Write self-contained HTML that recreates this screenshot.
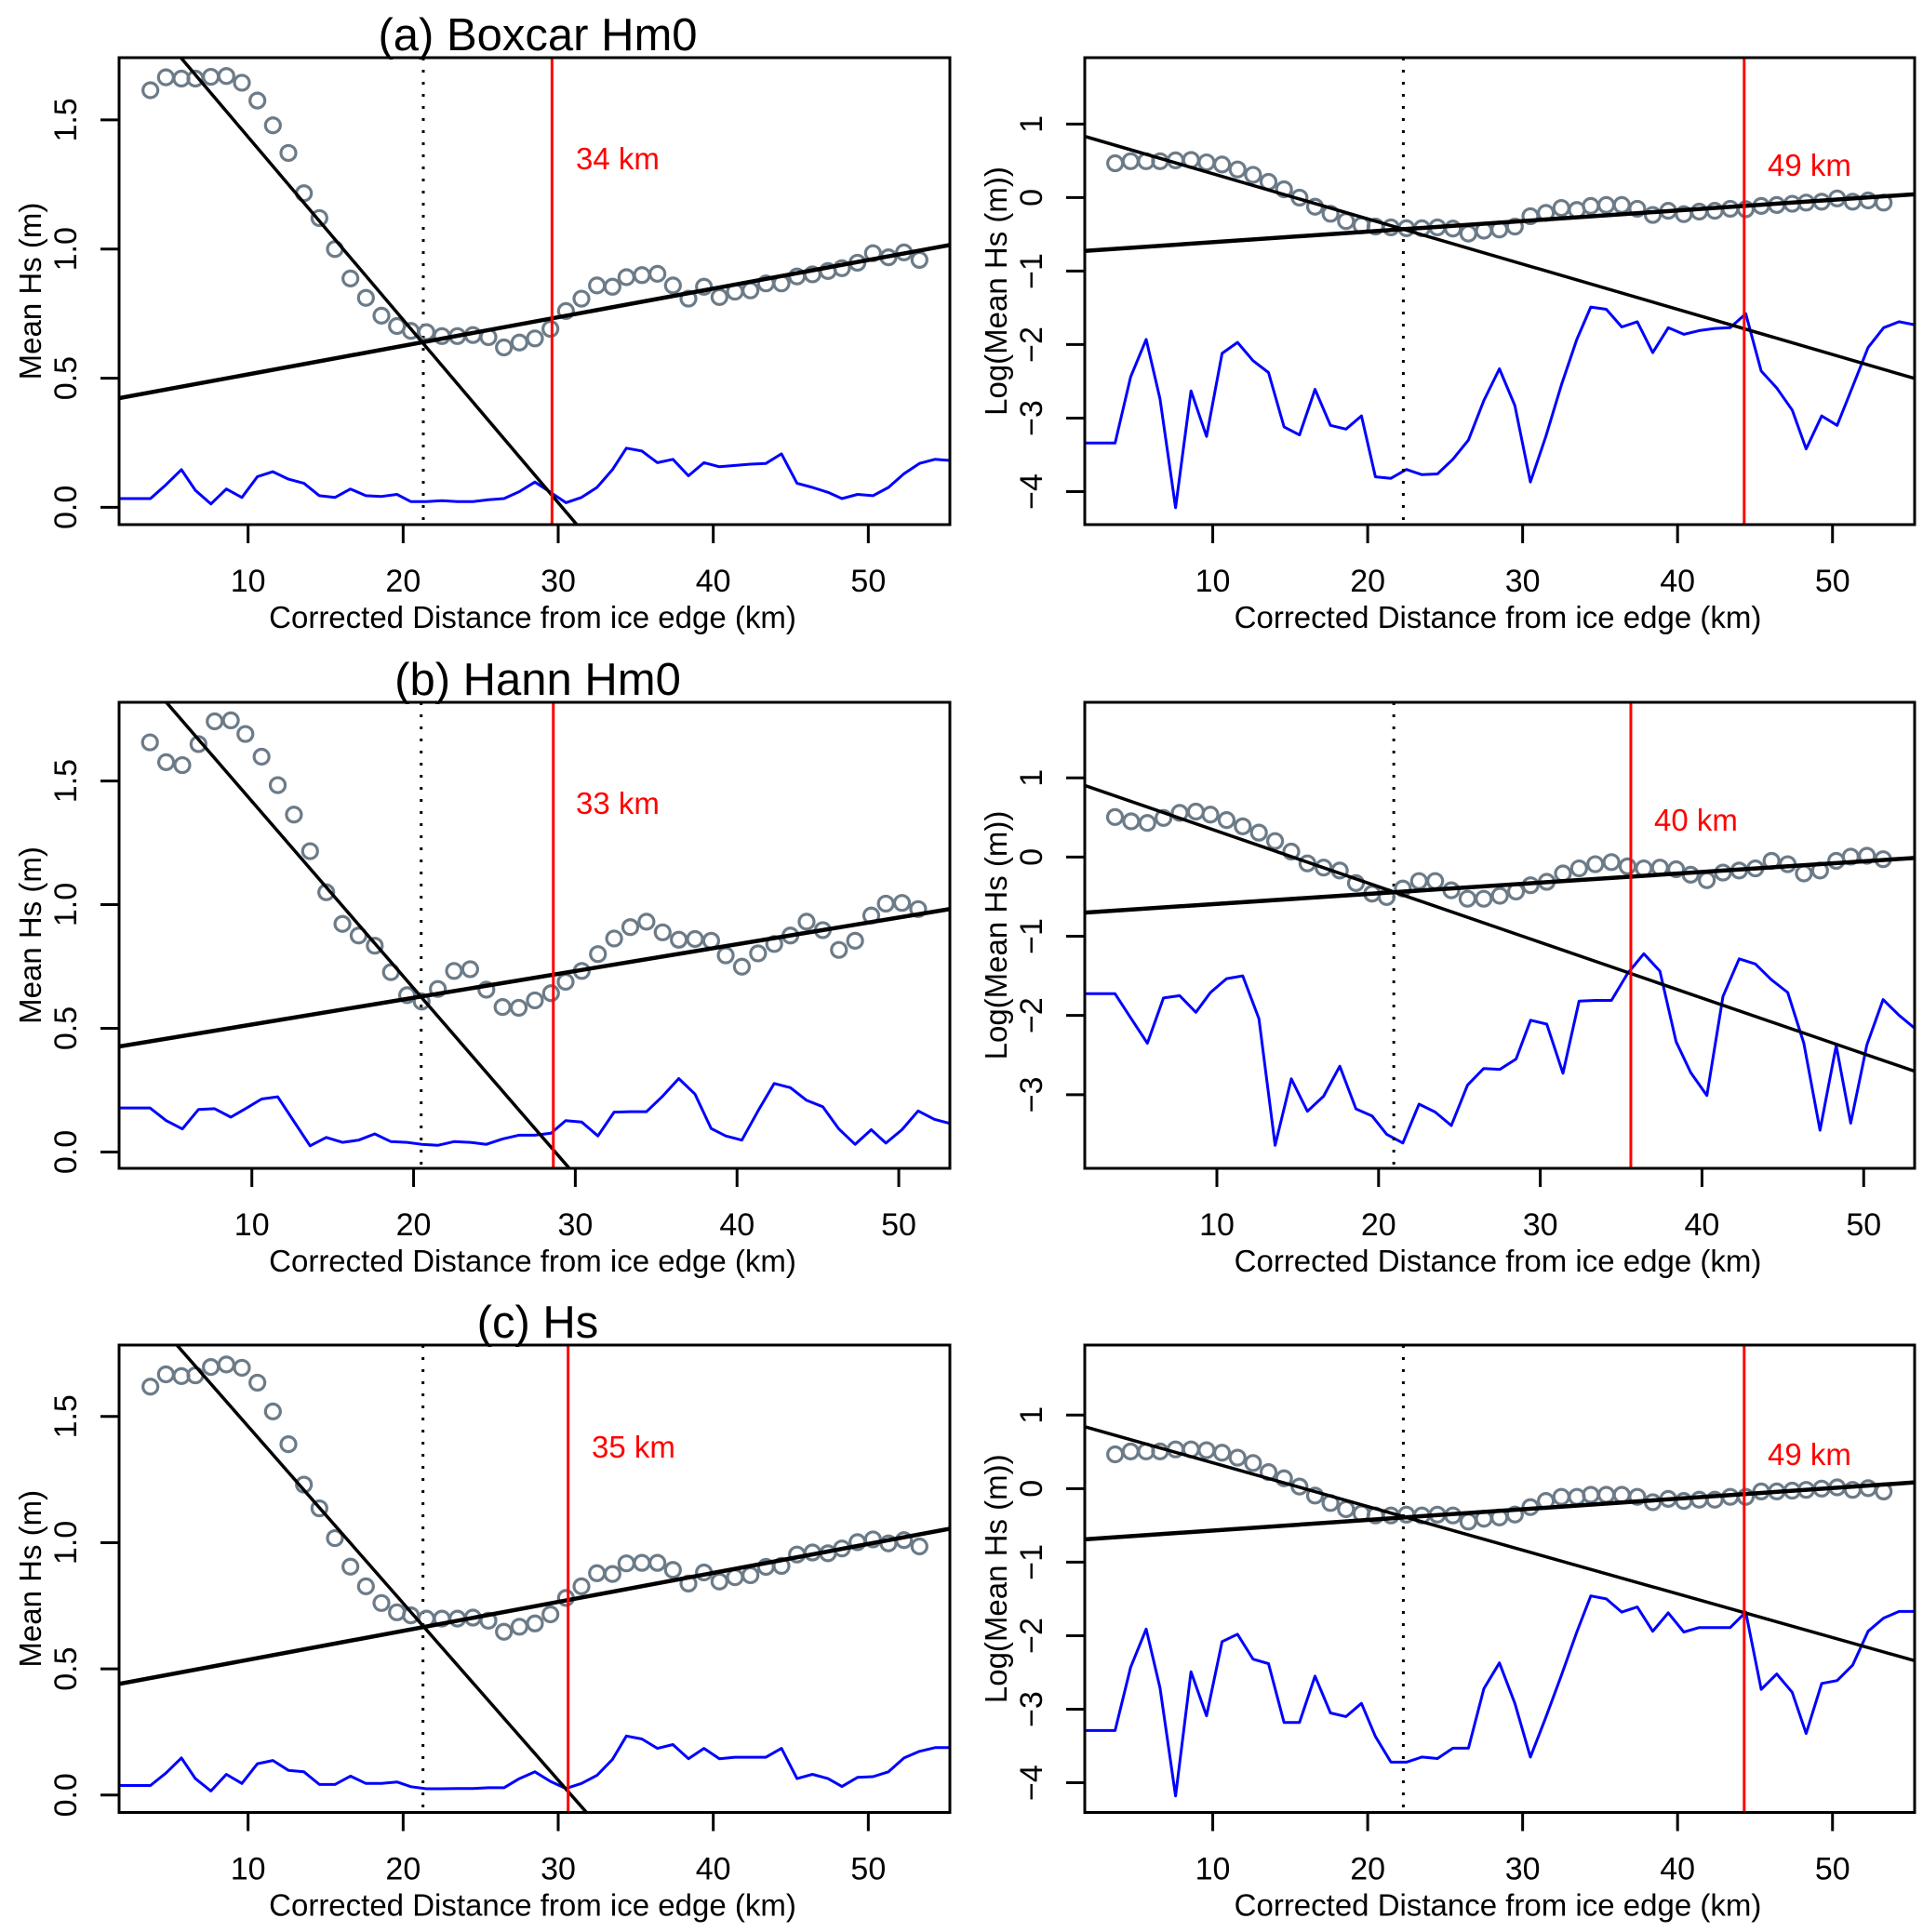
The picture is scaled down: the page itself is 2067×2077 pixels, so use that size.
<!DOCTYPE html>
<html><head><meta charset="utf-8"><style>html,body{margin:0;padding:0;background:#fff;overflow:hidden}svg{display:block}</style></head>
<body>
<svg id="fig" xmlns="http://www.w3.org/2000/svg" width="2067" height="2077" viewBox="0 0 2067 2077" font-family="'Liberation Sans', sans-serif"></svg>
<script>
// ---------- data ----------
const distA = [3.7,4.7,5.7,6.6,7.6,8.6,9.6,10.6,11.6,12.6,13.6,14.6,15.6,16.6,17.6,18.6,19.6,20.5,21.5,22.5,23.5,24.5,25.5,26.5,27.5,28.5,29.5,30.5,31.5,32.5,33.5,34.4,35.4,36.4,37.4,38.4,39.4,40.4,41.4,42.4,43.4,44.4,45.4,46.4,47.4,48.3,49.3,50.3,51.3,52.3,53.3];
const distB = [3.7,4.7,5.7,6.7,7.7,8.7,9.6,10.6,11.6,12.6,13.6,14.6,15.6,16.6,17.6,18.6,19.6,20.5,21.5,22.5,23.5,24.5,25.5,26.5,27.5,28.5,29.4,30.4,31.4,32.4,33.4,34.4,35.4,36.4,37.4,38.4,39.3,40.3,41.3,42.3,43.3,44.3,45.3,46.3,47.3,48.3,49.2,50.2,51.2];
const lineDistA = [1.7].concat(distA, [54.3, 55.3]);
const lineDistB = [1.8].concat(distB, [52.2, 53.2]);

const hsA = [1.615,1.665,1.66,1.66,1.667,1.67,1.644,1.575,1.479,1.372,1.216,1.12,1.0,0.886,0.811,0.742,0.702,0.683,0.678,0.663,0.663,0.667,0.659,0.619,0.638,0.654,0.691,0.76,0.808,0.859,0.854,0.891,0.899,0.904,0.859,0.808,0.854,0.814,0.835,0.84,0.867,0.867,0.894,0.902,0.915,0.926,0.947,0.984,0.968,0.987,0.958];
const sdA = [0.034,0.034,0.087,0.146,0.066,0.013,0.071,0.038,0.119,0.138,0.109,0.093,0.045,0.038,0.071,0.045,0.042,0.05,0.022,0.022,0.026,0.022,0.022,0.029,0.034,0.061,0.098,0.058,0.018,0.038,0.077,0.146,0.229,0.218,0.173,0.186,0.122,0.173,0.157,0.162,0.167,0.17,0.207,0.093,0.077,0.058,0.034,0.05,0.045,0.077,0.13,0.17,0.186,0.181];
const logA = [0.467,0.495,0.495,0.495,0.507,0.512,0.479,0.45,0.383,0.31,0.214,0.113,0,-0.124,-0.22,-0.32,-0.377,-0.394,-0.405,-0.417,-0.417,-0.405,-0.422,-0.49,-0.45,-0.434,-0.394,-0.253,-0.208,-0.141,-0.169,-0.113,-0.101,-0.101,-0.152,-0.236,-0.18,-0.225,-0.191,-0.18,-0.152,-0.158,-0.113,-0.101,-0.084,-0.068,-0.056,-0.011,-0.056,-0.039,-0.068];
const logSdA = [-3.34,-3.34,-2.44,-1.93,-2.74,-4.22,-2.63,-3.25,-2.12,-1.97,-2.22,-2.38,-3.12,-3.23,-2.61,-3.1,-3.15,-2.97,-3.8,-3.82,-3.7,-3.77,-3.76,-3.56,-3.3,-2.76,-2.33,-2.83,-3.87,-3.25,-2.55,-1.93,-1.49,-1.52,-1.76,-1.69,-2.11,-1.77,-1.86,-1.81,-1.78,-1.77,-1.58,-2.36,-2.59,-2.89,-3.42,-2.97,-3.1,-2.57,-2.04,-1.77,-1.69,-1.73];

const hsB = [1.656,1.576,1.564,1.649,1.741,1.745,1.69,1.598,1.483,1.364,1.216,1.05,0.922,0.875,0.834,0.727,0.634,0.608,0.659,0.732,0.739,0.656,0.586,0.583,0.613,0.642,0.688,0.732,0.8,0.863,0.909,0.931,0.888,0.858,0.861,0.854,0.795,0.749,0.803,0.841,0.875,0.931,0.897,0.817,0.854,0.956,1.004,1.007,0.982];
const sdB = [0.178,0.178,0.127,0.093,0.172,0.175,0.141,0.175,0.214,0.223,0.124,0.025,0.059,0.039,0.048,0.073,0.042,0.039,0.031,0.027,0.042,0.039,0.031,0.053,0.068,0.068,0.076,0.127,0.121,0.065,0.161,0.163,0.163,0.226,0.297,0.234,0.095,0.065,0.048,0.166,0.277,0.26,0.209,0.183,0.093,0.031,0.09,0.036,0.09,0.166,0.132,0.115];
const logB = [0.505,0.451,0.43,0.494,0.558,0.574,0.536,0.467,0.388,0.308,0.202,0.069,-0.08,-0.133,-0.17,-0.329,-0.462,-0.505,-0.398,-0.303,-0.303,-0.42,-0.526,-0.526,-0.489,-0.435,-0.356,-0.313,-0.207,-0.143,-0.09,-0.064,-0.117,-0.143,-0.133,-0.154,-0.223,-0.292,-0.196,-0.17,-0.143,-0.048,-0.09,-0.207,-0.17,-0.048,0.005,0.016,-0.027];
const logSdB = [-1.726,-1.726,-2.04,-2.35,-1.78,-1.75,-1.96,-1.71,-1.535,-1.5,-2.04,-3.64,-2.8,-3.21,-3.02,-2.64,-3.18,-3.27,-3.5,-3.61,-3.12,-3.22,-3.39,-2.88,-2.67,-2.68,-2.55,-2.06,-2.11,-2.73,-1.82,-1.81,-1.81,-1.47,-1.22,-1.44,-2.33,-2.72,-3.01,-1.76,-1.285,-1.35,-1.55,-1.71,-2.35,-3.45,-2.38,-3.36,-2.37,-1.8,-2.0,-2.17];

const hsC = [1.618,1.667,1.66,1.663,1.696,1.706,1.693,1.634,1.52,1.39,1.23,1.136,1.018,0.905,0.827,0.761,0.724,0.712,0.699,0.699,0.699,0.703,0.691,0.647,0.667,0.68,0.716,0.781,0.827,0.879,0.876,0.918,0.92,0.92,0.892,0.838,0.882,0.846,0.863,0.871,0.904,0.908,0.953,0.961,0.958,0.977,1.002,1.013,0.997,1.01,0.985];
const sdC = [0.038,0.038,0.087,0.147,0.065,0.016,0.082,0.046,0.124,0.137,0.098,0.092,0.042,0.042,0.075,0.046,0.046,0.052,0.033,0.025,0.025,0.026,0.026,0.029,0.029,0.065,0.092,0.054,0.026,0.046,0.078,0.141,0.234,0.222,0.185,0.2,0.144,0.185,0.144,0.15,0.15,0.15,0.185,0.065,0.082,0.065,0.034,0.07,0.073,0.092,0.147,0.173,0.188,0.188];
const logC = [0.466,0.505,0.505,0.505,0.533,0.533,0.522,0.488,0.421,0.348,0.224,0.14,0.028,-0.095,-0.196,-0.28,-0.337,-0.365,-0.365,-0.354,-0.365,-0.354,-0.365,-0.449,-0.41,-0.393,-0.353,-0.252,-0.168,-0.112,-0.112,-0.084,-0.084,-0.084,-0.112,-0.185,-0.14,-0.168,-0.151,-0.151,-0.112,-0.112,-0.039,-0.039,-0.028,-0.017,0,0.017,-0.017,0.006,-0.039];
const logSdC = [-3.29,-3.29,-2.43,-1.91,-2.71,-4.18,-2.49,-3.09,-2.08,-1.98,-2.32,-2.38,-3.18,-3.18,-2.55,-3.05,-3.1,-2.92,-3.37,-3.72,-3.72,-3.65,-3.67,-3.53,-3.53,-2.72,-2.37,-2.92,-3.65,-3.11,-2.54,-1.95,-1.46,-1.5,-1.68,-1.61,-1.94,-1.69,-1.95,-1.89,-1.89,-1.89,-1.68,-2.73,-2.52,-2.77,-3.33,-2.65,-2.61,-2.4,-1.94,-1.76,-1.67,-1.67];

// fit lines: [slope, intercept]
const fitInA = [-0.0708, 2.142], fitOutA = [0.01107, 0.404];
const fitInLA = [-0.0615, 0.94], fitOutLA = [0.0144, -0.751];
const fitInB = [-0.0756, 2.174], fitOutB = [0.01082, 0.407];
const fitInLB = [-0.0703, 1.032], fitOutLB = [0.01345, -0.726];
const fitInC = [-0.0701, 2.162], fitOutC = [0.01148, 0.421];
const fitInLC = [-0.0594, 0.945], fitOutLC = [0.01445, -0.715];
const breakDist = [21.3, 22.3, 20.47, 20.94, 21.28, 22.3];
const redDist = [29.6, 44.3, 28.64, 35.6, 30.64, 44.3];
const redLabels = ["34 km", "49 km", "33 km", "40 km", "35 km", "49 km"];
const titles = ["(a) Boxcar Hm0", "(b) Hann Hm0", "(c) Hs"];
const xTicks = [10, 20, 30, 40, 50];
const yTicksHs = [0, 0.5, 1.0, 1.5];
const yTickLabelsHs = ["0.0", "0.5", "1.0", "1.5"];
const yTicksLogA = [-4, -3, -2, -1, 0, 1];
const yTicksLogB = [-3, -2, -1, 0, 1];

// ---------- layout ----------
const NS = "http://www.w3.org/2000/svg";
const svg = document.getElementById("fig");
function mk(tag, attrs, parent) {
  const e = document.createElementNS(NS, tag);
  for (const k in attrs) e.setAttribute(k, attrs[k]);
  (parent || svg).appendChild(e);
  return e;
}
const rows = [{top: 62, bot: 564}, {top: 755, bot: 1256}, {top: 1446, bot: 1948.5}];
const panels = [
  {row:0, left:128, right:1021, xd:[1.68,55.26], yd:[-0.067,1.741], pts:hsA, pd:distA, sd:sdA, ld:lineDistA, f1:fitInA, f2:fitOutA, yt:yTicksHs, ytl:yTickLabelsHs, ytitle:"Mean Hs (m)", lx:619, ly:171, name:"a-linear"},
  {row:0, left:1166, right:2058, xd:[1.74,55.3], yd:[-4.45,1.904], pts:logA, pd:distA, sd:logSdA, ld:lineDistA, f1:fitInLA, f2:fitOutLA, yt:yTicksLogA, ytitle:"Log(Mean Hs (m))", lx:1900, ly:178, name:"a-log"},
  {row:1, left:128, right:1021, xd:[1.79,53.16], yd:[-0.066,1.818], pts:hsB, pd:distB, sd:sdB, ld:lineDistB, f1:fitInB, f2:fitOutB, yt:yTicksHs, ytl:yTickLabelsHs, ytitle:"Mean Hs (m)", lx:619, ly:864, name:"b-linear"},
  {row:1, left:1166, right:2058, xd:[1.83,53.15], yd:[-3.93,1.954], pts:logB, pd:distB, sd:logSdB, ld:lineDistB, f1:fitInLB, f2:fitOutLB, yt:yTicksLogB, ytitle:"Log(Mean Hs (m))", lx:1778, ly:882, name:"b-log"},
  {row:2, left:128, right:1021, xd:[1.68,55.26], yd:[-0.069,1.783], pts:hsC, pd:distA, sd:sdC, ld:lineDistA, f1:fitInC, f2:fitOutC, yt:yTicksHs, ytl:yTickLabelsHs, ytitle:"Mean Hs (m)", lx:636, ly:1556, name:"c-linear"},
  {row:2, left:1166, right:2058, xd:[1.74,55.3], yd:[-4.404,1.952], pts:logC, pd:distA, sd:logSdC, ld:lineDistA, f1:fitInLC, f2:fitOutLC, yt:yTicksLogA, ytitle:"Log(Mean Hs (m))", lx:1900, ly:1564, name:"c-log"}
];

titles.forEach((t, i) => {
  const r = rows[i];
  const e = mk("text", {x:578, y:r.top - 8, "font-size":49, "text-anchor":"middle"});
  
  
  e.textContent = t;
});

panels.forEach((p, i) => {
  const r = rows[p.row], T = r.top, B = r.bot, L = p.left, R = p.right;
  const sx = v => L + (v - p.xd[0]) / (p.xd[1] - p.xd[0]) * (R - L);
  const sy = v => B - (v - p.yd[0]) / (p.yd[1] - p.yd[0]) * (B - T);
  const g = mk("g", {});
  
  
  const cid = "clip" + i;
  const cp = mk("clipPath", {id: cid}, g);
  mk("rect", {x:L, y:T, width:R-L, height:B-T}, cp);
  const plot = mk("g", {"clip-path": "url(#" + cid + ")"}, g);

  let d = p.sd.map((v, k) => (k ? "L" : "M") + sx(p.ld[k]).toFixed(1) + "," + sy(v).toFixed(1)).join("");
  const bl = mk("path", {d:d, fill:"none", stroke:"#0000ff", "stroke-width":3, "stroke-linejoin":"round"}, plot);
  
  

  const dl = mk("line", {x1:sx(breakDist[i]), x2:sx(breakDist[i]), y1:T, y2:B, stroke:"#000", "stroke-width":3, "stroke-dasharray":"3 10"}, plot);
  
  

  p.pts.forEach((v, k) => {
    const c = mk("circle", {cx:sx(p.pd[k]), cy:sy(v), r:8, fill:"none", stroke:"#6c7b88", "stroke-width":3.2}, plot);
    
    
  });

  [p.f1, p.f2].forEach((f, k) => {
    const x0 = p.xd[0], x1 = p.xd[1];
    const l = mk("line", {x1:sx(x0), y1:sy(f[0]*x0+f[1]), x2:sx(x1), y2:sy(f[0]*x1+f[1]), stroke:"#000", "stroke-width":k ? 4.5 : 3.5}, plot);
    
    
  });

  const rl = mk("line", {x1:sx(redDist[i]), x2:sx(redDist[i]), y1:T, y2:B, stroke:"#ff0000", "stroke-width":3}, plot);
  
  
  const rt = mk("text", {x:p.lx, y:p.ly + 11, "font-size":33, fill:"#ff0000"}, g);
  
  
  rt.textContent = redLabels[i];

  const fr = mk("rect", {x:L, y:T, width:R-L, height:B-T, fill:"none", stroke:"#000", "stroke-width":3}, g);
  
  

  xTicks.forEach(t => {
    const x = sx(t);
    mk("line", {x1:x, x2:x, y1:B, y2:B + 20, stroke:"#000", "stroke-width":3}, g);
    const tl = mk("text", {x:x, y:B + 72, "font-size":34, "text-anchor":"middle"}, g);
    
    
    tl.textContent = t;
  });
  const xt = mk("text", {x:(L + R) / 2 - 2, y:B + 111, "font-size":33, "text-anchor":"middle"}, g);
  
  
  xt.textContent = "Corrected Distance from ice edge (km)";

  const tx = L - 46;
  p.yt.forEach((t, k) => {
    const y = sy(t);
    mk("line", {x1:L, x2:L - 20, y1:y, y2:y, stroke:"#000", "stroke-width":3}, g);
    const tl = mk("text", {x:tx, y:y, "font-size":34, "text-anchor":"middle", transform:"rotate(-90 " + tx + " " + y + ")"}, g);
    
    
    tl.textContent = p.ytl ? p.ytl[k] : (t < 0 ? "\u2212" + (-t) : t);
  });
  const yx = L - 84, yy = (T + B) / 2;
  const yt = mk("text", {x:yx, y:yy, "font-size":33, "text-anchor":"middle", transform:"rotate(-90 " + yx + " " + yy + ")"}, g);
  
  
  yt.textContent = p.ytitle;
});
</script>
</body></html>
